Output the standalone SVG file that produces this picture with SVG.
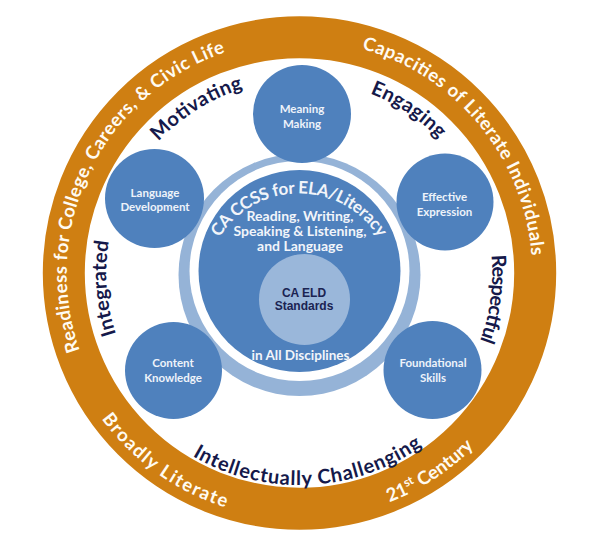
<svg xmlns="http://www.w3.org/2000/svg" width="590" height="542" viewBox="0 0 590 542">
<style>
.ring{fill:none;stroke:#CF7F12;stroke-width:42}
.sat{fill:#4F81BD}
.sattxt{font-family:Lato,"Open Sans","DejaVu Sans",sans-serif;font-weight:bold;font-size:11.5px;fill:#EEF3FA;text-anchor:middle}
.otxt{font-family:Lato,"Open Sans","DejaVu Sans",sans-serif;font-weight:bold;font-size:18.5px;fill:#FFFBF2}
.ntxt{font-family:Lato,"Open Sans","DejaVu Sans",sans-serif;font-weight:bold;font-size:20px;fill:#15194A}
.ctxt{font-family:Lato,"Open Sans","DejaVu Sans",sans-serif;font-weight:bold;fill:#F2F5FA;text-anchor:middle}
.eld{font-family:"Liberation Sans",Arial,sans-serif;font-weight:bold;font-size:12px;fill:#1A2352;text-anchor:middle}
</style>
<defs>
<path id="pReady" d="M179.5,472.7 A233,233 0 0 1 383.0,55.5"/>
<path id="pCap" d="M167.9,80.8 A233,233 0 0 1 462.5,439.5"/>
<path id="pBroad" d="M87.8,147.8 A246,246 0 0 0 486.3,433.1"/>
<path id="p21" d="M106.4,425.5 A246,246 0 0 0 516.1,156.4"/>
<path id="pMot" d="M127.5,360.6 A193,193 0 0 1 453.6,156.9"/>
<path id="pEng" d="M148.9,152.3 A193,193 0 0 1 468.8,365.7"/>
<path id="pResp" d="M341.6,84.7 A193,193 0 0 1 290.7,465.8"/>
<path id="pInt" d="M297.8,466.0 A193,193 0 0 1 267.7,82.6"/>
<path id="pIntel" d="M89.3,300.7 A212,212 0 0 0 511.3,282.2"/>
<path id="pCCSS" d="M205.4,278.8 A94,94 0 0 1 392.6,278.8"/>
</defs>
<rect width="590" height="542" fill="#FFFFFF"/>

<g id="outer-ring">
<circle class="ring" cx="299.5" cy="273" r="235.7"/>
<text class="otxt"><textPath href="#pReady" startOffset="50%" text-anchor="middle" textLength="369" lengthAdjust="spacing">Readiness for College, Careers, &amp; Civic Life</textPath></text>
<text class="otxt"><textPath href="#pCap" startOffset="50%" text-anchor="middle" textLength="285" lengthAdjust="spacing">Capacities of Literate Individuals</textPath></text>
<text class="otxt"><textPath href="#pBroad" startOffset="50%" text-anchor="middle" textLength="155" lengthAdjust="spacing">Broadly Literate</textPath></text>
<text class="otxt"><textPath href="#p21" startOffset="50%" text-anchor="middle">21<tspan font-size="12" dy="-7">st</tspan><tspan dy="7"> Century</tspan></textPath></text>
</g>

<g id="qualities">
<text class="ntxt"><textPath href="#pMot" startOffset="50%" text-anchor="middle" textLength="101" lengthAdjust="spacing">Motivating</textPath></text>
<text class="ntxt"><textPath href="#pEng" startOffset="50%" text-anchor="middle" textLength="83" lengthAdjust="spacing">Engaging</textPath></text>
<text class="ntxt"><textPath href="#pResp" startOffset="50%" text-anchor="middle" textLength="87" lengthAdjust="spacing">Respectful</textPath></text>
<text class="ntxt"><textPath href="#pInt" startOffset="50%" text-anchor="middle" textLength="94" lengthAdjust="spacing">Integrated</textPath></text>
<text class="ntxt"><textPath href="#pIntel" startOffset="50%" text-anchor="middle" textLength="243" lengthAdjust="spacing">Intellectually Challenging</textPath></text>
</g>

<g id="connectors"></g>

<g id="center">
<circle cx="299.5" cy="275" r="121" fill="#95B3D7"/>
<circle cx="299.5" cy="271" r="110" fill="#FFFFFF"/>
<circle cx="299.5" cy="271" r="101" fill="#4F81BD"/>
<text class="ctxt" font-size="17"><textPath href="#pCCSS" startOffset="50%" text-anchor="middle" textLength="190" lengthAdjust="spacing">CA CCSS for ELA/Literacy</textPath></text>
<text class="ctxt" font-size="14" x="300" y="221">Reading, Writing,</text>
<text class="ctxt" font-size="14" x="300" y="236">Speaking &amp; Listening,</text>
<text class="ctxt" font-size="14" x="300" y="251">and Language</text>
<text class="ctxt" font-size="13.5" x="300.5" y="360">in All Disciplines</text>
</g>

<g id="eld">
<circle cx="304.5" cy="299.5" r="45.5" fill="#9AB7DA"/>
<text class="eld" x="304" y="297">CA ELD</text>
<text class="eld" x="304" y="310">Standards</text>
</g>

<g id="meaning-making">
<circle class="sat" cx="302" cy="114" r="49"/>
<text class="sattxt" x="302" y="112.5">Meaning</text>
<text class="sattxt" x="302" y="127.5">Making</text>
</g>
<g id="language-development">
<circle class="sat" cx="154.5" cy="198.5" r="49.5"/>
<text class="sattxt" x="155" y="197">Language</text>
<text class="sattxt" x="155" y="211">Development</text>
</g>
<g id="effective-expression">
<circle class="sat" cx="445" cy="202" r="48.5"/>
<text class="sattxt" x="444.5" y="201">Effective</text>
<text class="sattxt" x="444.5" y="216">Expression</text>
</g>
<g id="content-knowledge">
<circle class="sat" cx="173.5" cy="370.5" r="48.5"/>
<text class="sattxt" x="173" y="367">Content</text>
<text class="sattxt" x="173" y="382">Knowledge</text>
</g>
<g id="foundational-skills">
<circle class="sat" cx="432.5" cy="370" r="49"/>
<text class="sattxt" x="433" y="367">Foundational</text>
<text class="sattxt" x="433" y="382">Skills</text>
</g>
</svg>
